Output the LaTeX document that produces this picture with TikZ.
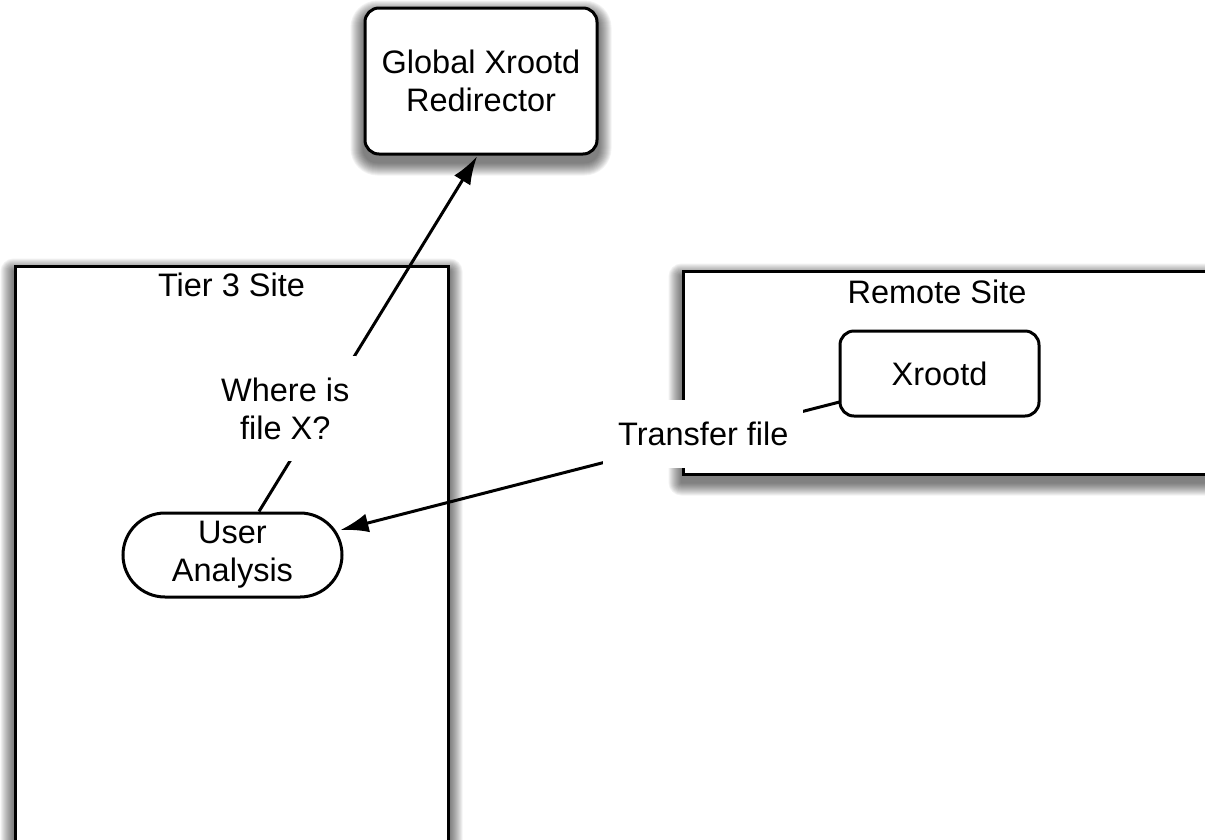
\documentclass[tikz,border=0pt]{standalone}
\usepackage{fontspec}
\setmainfont{Liberation Sans}
\usetikzlibrary{arrows.meta,calc,backgrounds}

\tikzset{
  every node/.style={font=\fontsize{32.5}{38}\selectfont, align=center},
  site/.style={draw, line width=3pt, fill=white, rectangle, inner sep=0pt},
  procbox/.style={draw, line width=3pt, fill=white, rounded corners=14pt,
      inner sep=0pt},
  pill/.style={draw, line width=3pt, fill=white, rounded corners=42pt,
      inner sep=0pt},
  flow/.style={line width=3pt, -{Latex[length=28pt,width=19pt]}},
  tag/.style={fill=white, inner sep=0pt},
  halolayer/.style={black, fill opacity=0.05}
}

% soft drop shadow: stacked translucent outlines, shifted below the node
\newcommand\boxhalo[2]{%
  \foreach \i in {1,...,13}{%
    \pgfmathsetmacro\rr{#2+\i}
    \fill[halolayer, rounded corners=\rr pt]
      ($(#1.south west)+(-\i,\i+7)$) rectangle ($(#1.north east)+(\i,-\i+7)$);
  }}

\begin{document}
\begin{tikzpicture}[x=1pt, y=-1pt]
  \useasboundingbox (0,0) rectangle (1205,839);

  % site containers
  \node[site, minimum width=433pt, minimum height=590pt] (tier) at (231.5,561) {};
  \node (tiertitle) at (231.5,285) {Tier 3 Site};
  \node[site, minimum width=540pt, minimum height=203pt] (remote) at (953,372.5) {};
  \node (remotetitle) at (937,292) {Remote Site};

  % services
  \node[procbox, minimum width=232pt, minimum height=146pt] (global) at (481,81)
       {Global Xrootd\\Redirector};
  \node[procbox, minimum width=199pt, minimum height=85pt] (xrootd) at (939.5,373.5)
       {Xrootd};
  \node[pill, minimum width=219pt, minimum height=84pt] (user) at (232.5,555)
       {User\\Analysis};

  % shadows under the boxes
  \begin{scope}[on background layer]
    \boxhalo{tier}{0}
    \boxhalo{remote}{0}
    \boxhalo{global}{14}
  \end{scope}

  % requests and transfers
  \draw[flow] ($(user.north)+(26.5,0)$) --
       node[tag, pos=0.29, xshift=-37pt, minimum width=142pt, minimum height=105pt]
       (ask) {Where is\\file X?}
       ($(global.south)+(-4,1)$);
  \draw[flow] ($(xrootd.west)+(1,28.5)$) --
       node[tag, pos=0.277, xshift=2pt, yshift=3.5pt, minimum width=200pt,
            minimum height=68pt] (xfer) {Transfer file}
       ($(user.east)+(-3,-25)$);
\end{tikzpicture}
\end{document}
